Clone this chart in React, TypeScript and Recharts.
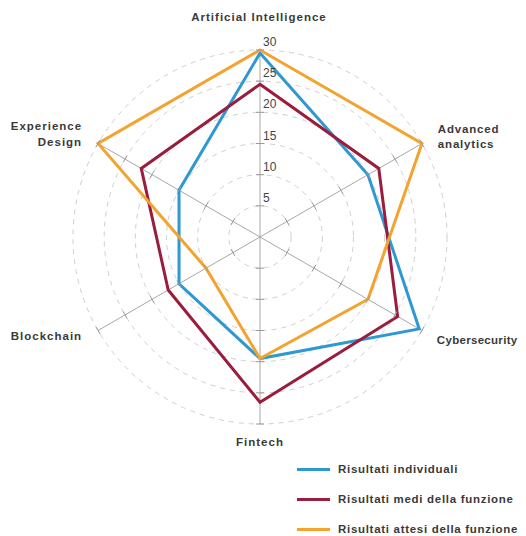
import React from 'react';
import {
  RadarChart,
  Radar,
  PolarGrid,
  PolarAngleAxis,
  PolarRadiusAxis,
  Legend,
} from 'recharts';

const categories = [
  'Artificial Intelligence',
  'Advanced analytics',
  'Cybersecurity',
  'Fintech',
  'Blockchain',
  'Experience Design',
];
const seriesNames = [
  'Risultati individuali',
  'Risultati medi della funzione',
  'Risultati attesi della funzione',
];
const individuali = [29.5, 20, 29.5, 19.5, 15, 15];
const medi = [24.5, 22, 25.5, 26.5, 17, 22];
const attesi = [30, 30, 20, 19.5, 10, 30];
const radiusTicks = [0, 5, 10, 15, 20, 25, 30];

const data = categories.map((name, i) => ({
  name,
  individuali: individuali[i],
  medi: medi[i],
  attesi: attesi[i],
}));

const CX = 252;
const CY = 229;
const FONT = '"Liberation Sans", Arial, sans-serif';
const TEXT = '#3a3a3a';

// label placement around the web
const labelLayout: Record<
  string,
  { lines: string[]; anchor: string; dx: number; dy: number; lh: number; ls: number }
> = {
  'Artificial Intelligence': { lines: ['Artificial Intelligence'], anchor: 'middle', dx: -1, dy: -25, lh: 0, ls: 1 },
  'Advanced analytics': { lines: ['Advanced', 'analytics'], anchor: 'start', dx: 9, dy: -10.5, lh: 15, ls: 0.8 },
  Cybersecurity: { lines: ['Cybersecurity'], anchor: 'start', dx: 8, dy: 5.5, lh: 0, ls: 0.3 },
  Fintech: { lines: ['Fintech'], anchor: 'middle', dx: 0, dy: 10, lh: 0, ls: 1 },
  Blockchain: { lines: ['Blockchain'], anchor: 'end', dx: -9, dy: 1.5, lh: 0, ls: 1 },
  'Experience Design': { lines: ['Experience', 'Design'], anchor: 'end', dx: -9, dy: -13.5, lh: 16, ls: 1 },
};

function AngleTick(props: any) {
  const { x, y, payload } = props;
  const l = labelLayout[payload.value];
  if (!l) return null;
  return (
    <text
      x={x + l.dx}
      y={y + l.dy}
      textAnchor={l.anchor}
      dominantBaseline="central"
      fontFamily={FONT}
      fontSize={11.5}
      fontWeight={700}
      letterSpacing={l.ls}
      fill={TEXT}
    >
      {l.lines.map((line, i) => (
        <tspan key={line} x={x + l.dx} dy={i === 0 ? 0 : l.lh}>
          {line}
        </tspan>
      ))}
    </text>
  );
}

const axisAngles = [90, 30, -30, -90, -150, 150];

function RadiusTick(props: any) {
  const { x, y, payload } = props;
  if (!payload || payload.value === 0) return null;
  const r = Math.hypot(x - CX, y - CY);
  return (
    <g>
      {axisAngles.map((a) => {
        const rad = (a * Math.PI) / 180;
        const px = CX + r * Math.cos(rad);
        const py = CY - r * Math.sin(rad);
        const ux = Math.sin(rad) * 4;
        const uy = Math.cos(rad) * 4;
        return (
          <line
            key={a}
            x1={px - ux}
            y1={py - uy}
            x2={px + ux}
            y2={py + uy}
            stroke="#9a9a9a"
            strokeWidth={1}
          />
        );
      })}
      <text
        x={x + 3}
        y={y - 8}
        textAnchor="start"
        dominantBaseline="central"
        fontFamily={FONT}
        fontSize={12}
        fill="#444"
      >
        {payload.value}
      </text>
    </g>
  );
}

function LegendContent(props: any) {
  const items = [...(props.payload || [])].sort(
    (a: any, b: any) => seriesNames.indexOf(a.value) - seriesNames.indexOf(b.value)
  );
  return (
    <div style={{ fontFamily: FONT }}>
      {items.map((entry: any) => (
        <div
          key={entry.value}
          style={{ display: 'flex', alignItems: 'center', height: 30, whiteSpace: 'nowrap' }}
        >
          <span
            style={{
              display: 'inline-block',
              width: 33,
              height: 3,
              background: entry.color,
              marginRight: 8,
            }}
          />
          <span style={{ fontSize: 11.5, fontWeight: 700, letterSpacing: 0.7, color: TEXT }}>
            {entry.value}
          </span>
        </div>
      ))}
    </div>
  );
}

export default function App() {
  return (
    <RadarChart
      width={510}
      height={528}
      data={data}
      cx={CX}
      cy={CY}
      outerRadius={187}
      margin={{ top: 0, right: 0, bottom: 0, left: 0 }}
      style={{ overflow: 'visible' }}
    >
      <PolarGrid
        gridType="circle"
        radialLines={false}
        stroke="#cfcfcf"
        strokeDasharray="5 5"
      />
      <PolarGrid gridType="circle" polarRadius={[]} stroke="#a8a8a8" />
      <PolarAngleAxis dataKey="name" tick={<AngleTick />} tickLine={false} axisLine={false} />
      <PolarRadiusAxis
        angle={90}
        domain={[0, 30]}
        ticks={radiusTicks as any}
        tickCount={7}
        axisLine={false}
        tick={<RadiusTick />}
      />
      <Radar
        name={seriesNames[0]}
        dataKey="individuali"
        stroke="#2f98d3"
        strokeWidth={3}
        fill="none"
        fillOpacity={0}
        dot={false}
        isAnimationActive={false}
      />
      <Radar
        name={seriesNames[1]}
        dataKey="medi"
        stroke="#9b1d3d"
        strokeWidth={3}
        fill="none"
        fillOpacity={0}
        dot={false}
        isAnimationActive={false}
      />
      <Radar
        name={seriesNames[2]}
        dataKey="attesi"
        stroke="#f2a330"
        strokeWidth={3}
        fill="none"
        fillOpacity={0}
        dot={false}
        isAnimationActive={false}
      />
      <Legend
        content={<LegendContent />}
        wrapperStyle={{ position: 'absolute', left: 289, top: 446, width: 260 }}
      />
    </RadarChart>
  );
}
